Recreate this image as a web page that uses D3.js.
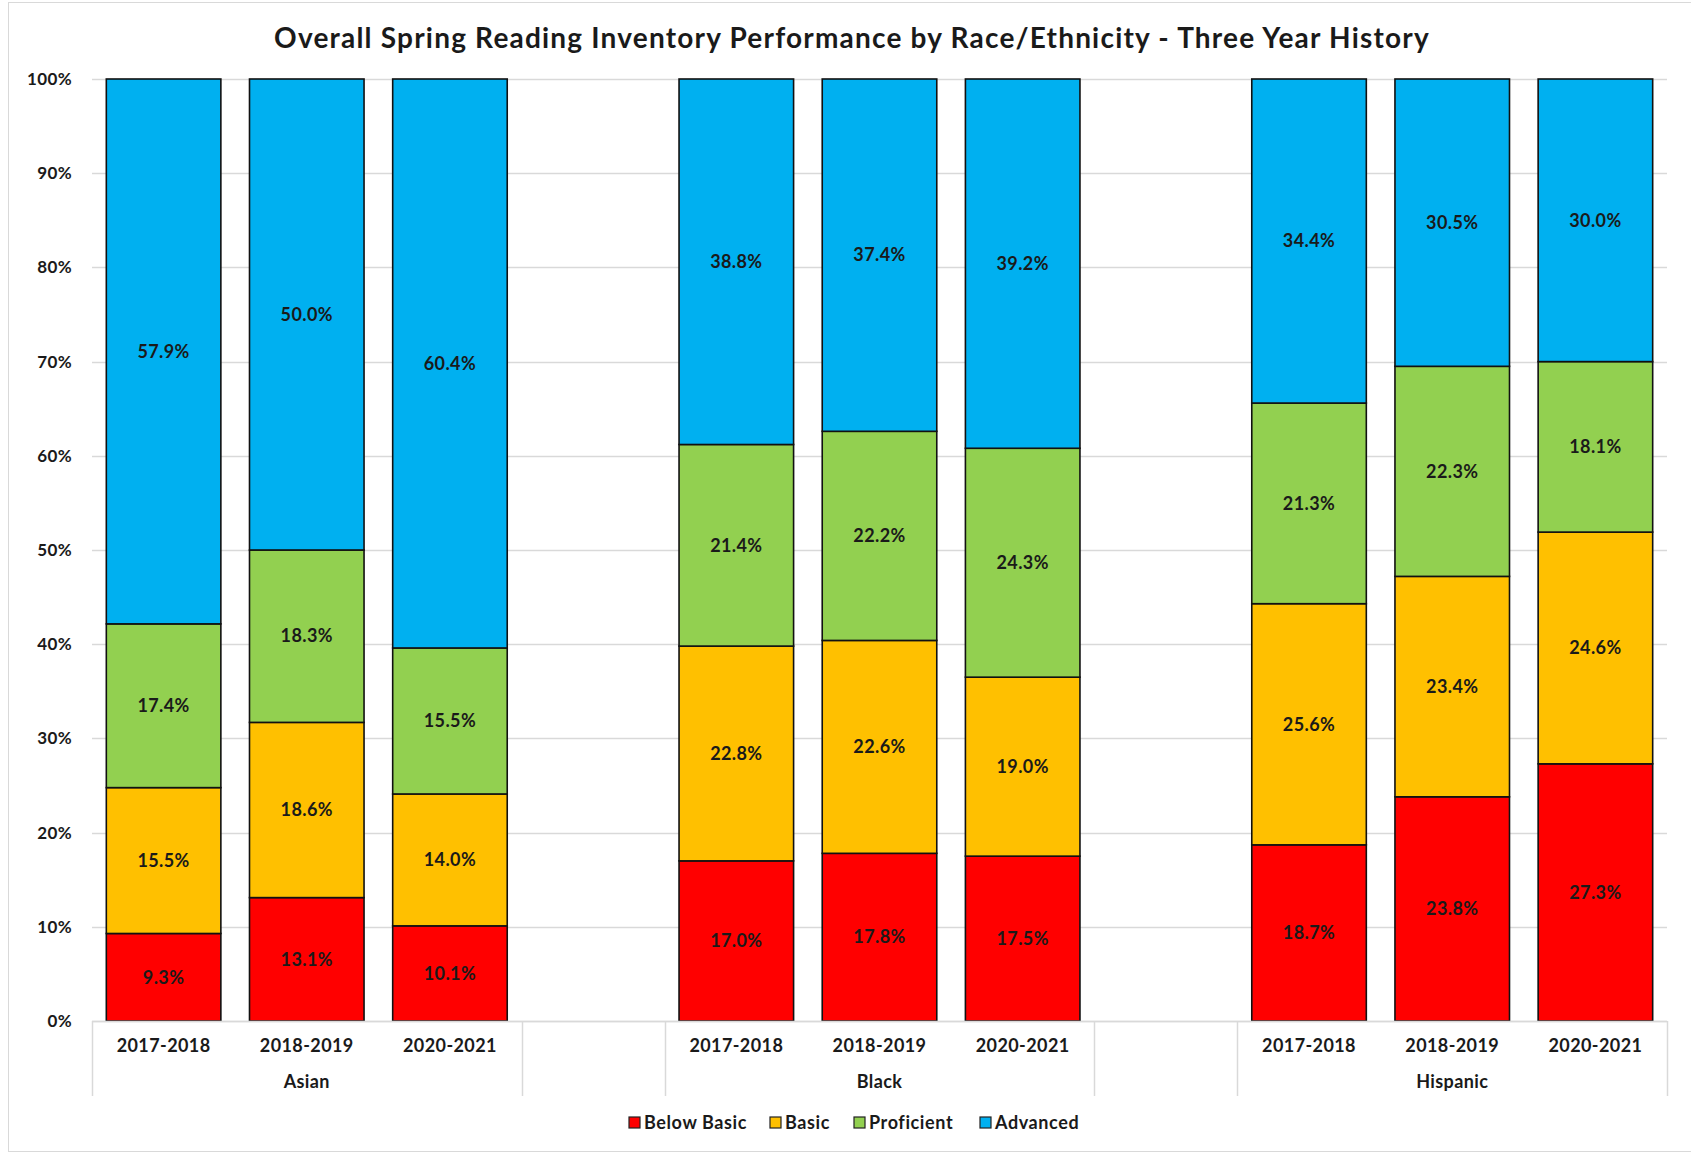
<!DOCTYPE html>
<html>
<head>
<meta charset="utf-8">
<script src="https://cdn.jsdelivr.net/npm/d3@7"></script>
<style>
  body { margin: 0; background: #fff; }
  svg text { font-family: Lato, "Open Sans", sans-serif; font-weight: bold; fill: #1a1a1a; }
</style>
</head>
<body>
<svg id="chart" width="1691" height="1153"></svg>
<script>
// chart values
const groups = ["Asian", "Black", "Hispanic"];
const years = ["2017-2018", "2018-2019", "2020-2021"];
const levels = ["Below Basic", "Basic", "Proficient", "Advanced"];
const levelColors = ["#ff0000", "#ffc000", "#92d050", "#00b0f0"];
// one value per bar: Asian x3, Black x3, Hispanic x3
const belowBasic = [9.3, 13.1, 10.1, 17.0, 17.8, 17.5, 18.7, 23.8, 27.3];
const basic      = [15.5, 18.6, 14.0, 22.8, 22.6, 19.0, 25.6, 23.4, 24.6];
const proficient = [17.4, 18.3, 15.5, 21.4, 22.2, 24.3, 21.3, 22.3, 18.1];
const advanced   = [57.9, 50.0, 60.4, 38.8, 37.4, 39.2, 34.4, 30.5, 30.0];
const yTicks = [0, 0.1, 0.2, 0.3, 0.4, 0.5, 0.6, 0.7, 0.8, 0.9, 1];
const title = "Overall Spring Reading Inventory Performance by Race/Ethnicity - Three Year History";

const width = 1691, height = 1153;
const margin = {left: 92, right: 24, top: 79, bottom: 132};
const labelSize = "18px", labelSpacing = "0.4px";

const svg = d3.select("#chart");

// outer chart border
svg.append("rect")
    .attr("x", 8.5).attr("y", 2.5)
    .attr("width", width + 10).attr("height", height - 4)
    .attr("fill", "none").attr("stroke", "#d9d9d9");

// build rows, with an empty slot between groups (like the blank rows in the sheet)
let rows = [];
let slots = [];
groups.forEach(function(g, gi) {
    if (gi > 0) slots.push("gap" + gi);
    years.forEach(function(yr, yi) {
        let i = gi * years.length + yi;
        let key = g + "|" + yr;
        slots.push(key);
        rows.push({key: key, group: g, year: yr,
            "Below Basic": belowBasic[i], "Basic": basic[i],
            "Proficient": proficient[i], "Advanced": advanced[i]});
    });
});

let x = d3.scaleBand()
    .domain(slots)
    .range([margin.left, width - margin.right])
    .paddingInner(0.2)
    .paddingOuter(0.1);

let y = d3.scaleLinear()
    .domain([0, 1])
    .range([height - margin.bottom, margin.top]);

// gridlines
svg.append("g")
    .selectAll("line")
    .data(yTicks)
    .enter()
    .append("line")
    .attr("x1", margin.left).attr("x2", width - margin.right)
    .attr("y1", d => Math.round(y(d)) + 0.5).attr("y2", d => Math.round(y(d)) + 0.5)
    .attr("stroke", "#d9d9d9").attr("stroke-width", 1.5);

// y axis labels
let yAxis = d3.axisLeft(y).tickValues(yTicks).tickFormat(d3.format(".0%")).tickSize(0).tickPadding(20);
svg.append("g")
    .attr("transform", `translate(${margin.left},0)`)
    .call(yAxis)
    .call(g => g.select(".domain").remove())
    .selectAll("text")
    .style("font-size", "17px")
    .style("font-family", "Lato, sans-serif")
    .style("font-weight", "bold")
    .style("letter-spacing", labelSpacing)
    .attr("fill", "#1a1a1a");

// 100% stacked like excel
let stack = d3.stack().keys(levels).offset(d3.stackOffsetExpand);
let series = stack(rows);

let layer = svg.append("g")
    .selectAll("g")
    .data(series)
    .enter()
    .append("g")
    .attr("fill", (d, i) => levelColors[i]);

layer.selectAll("rect")
    .data(d => d)
    .enter()
    .append("rect")
    .attr("x", d => x(d.data.key))
    .attr("width", x.bandwidth())
    .attr("y", d => y(d[1]))
    .attr("height", d => y(d[0]) - y(d[1]))
    .attr("stroke", "#111")
    .attr("stroke-width", 1.6);

// segment labels
series.forEach(function(s) {
    svg.append("g")
        .selectAll("text")
        .data(s)
        .enter()
        .append("text")
        .attr("x", d => x(d.data.key) + x.bandwidth() / 2)
        .attr("y", d => y((d[0] + d[1]) / 2))
        .attr("dy", "0.35em")
        .attr("text-anchor", "middle")
        .style("font-size", labelSize)
        .style("letter-spacing", labelSpacing)
        .text(d => d.data[s.key].toFixed(1) + "%");
});

// category axis (two levels)
let base = y(0);
let axisG = svg.append("g");
axisG.append("line")
    .attr("x1", margin.left).attr("x2", width - margin.right)
    .attr("y1", Math.round(base) + 0.5).attr("y2", Math.round(base) + 0.5)
    .attr("stroke", "#d9d9d9").attr("stroke-width", 1.5);

// separators at group boundaries
let step = x.step();
let edges = [margin.left];
slots.forEach(function(s, i) {
    if (s.startsWith("gap")) {
        edges.push(x(s) - step * 0.1);
        edges.push(x(s) + x.bandwidth() + step * 0.1);
    }
});
edges.push(width - margin.right);
axisG.selectAll("line.sep")
    .data(edges)
    .enter()
    .append("line")
    .attr("class", "sep")
    .attr("x1", d => Math.round(d) + 0.5).attr("x2", d => Math.round(d) + 0.5)
    .attr("y1", base).attr("y2", base + 75)
    .attr("stroke", "#d9d9d9").attr("stroke-width", 1.5);

axisG.selectAll("text.year")
    .data(rows)
    .enter()
    .append("text")
    .attr("class", "year")
    .attr("x", d => x(d.key) + x.bandwidth() / 2)
    .attr("y", base + 25)
    .attr("dy", "0.35em")
    .attr("text-anchor", "middle")
    .style("font-size", labelSize)
    .style("letter-spacing", labelSpacing)
    .text(d => d.year);

axisG.selectAll("text.grp")
    .data(groups)
    .enter()
    .append("text")
    .attr("class", "grp")
    .attr("x", g => x(g + "|" + years[1]) + x.bandwidth() / 2)
    .attr("y", base + 61)
    .attr("dy", "0.35em")
    .attr("text-anchor", "middle")
    .style("font-size", labelSize)
    .style("letter-spacing", labelSpacing)
    .text(g => g);

// title
svg.append("text")
    .attr("x", 852)
    .attr("y", 38)
    .attr("dy", "0.35em")
    .attr("text-anchor", "middle")
    .style("font-size", "28px")
    .style("letter-spacing", "1.2px")
    .attr("fill", "#000")
    .text(title);

// legend
let legend = svg.append("g").attr("transform", `translate(0, 1123)`);
let legX = [629, 770, 854, 980];
let item = legend.selectAll("g")
    .data(levels)
    .enter()
    .append("g")
    .attr("transform", (d, i) => `translate(${legX[i]},0)`);
item.append("rect")
    .attr("x", 0).attr("y", -6)
    .attr("width", 11).attr("height", 11)
    .attr("fill", (d, i) => levelColors[i])
    .attr("stroke", "#222").attr("stroke-width", 1.2);
item.append("text")
    .attr("x", 15)
    .attr("y", 0)
    .attr("dy", "0.35em")
    .style("font-size", labelSize)
    .style("letter-spacing", "0.6px")
    .text(d => d);
</script>
</body>
</html>
